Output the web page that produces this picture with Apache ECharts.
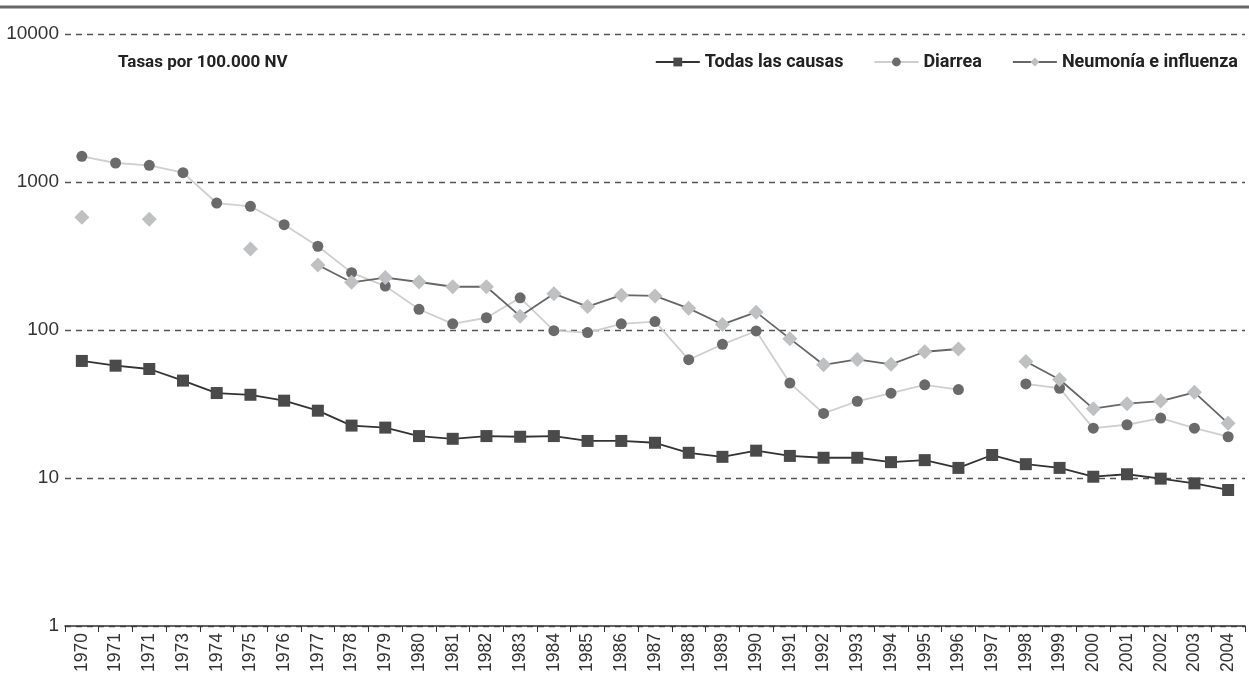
<!DOCTYPE html>
<html>
<head>
<meta charset="utf-8">
<script src="https://cdn.jsdelivr.net/npm/echarts@6/dist/echarts.min.js"></script>
<style>
html,body{margin:0;padding:0;background:#fff;}
#chart{width:1249px;height:685px;}
</style>
</head>
<body>
<div id="chart"></div>
<script>
const years = ['1970','1971','1971','1973','1974','1975','1976','1977','1978','1979','1980','1981','1982','1983','1984','1985','1986','1987','1988','1989','1990','1991','1992','1993','1994','1995','1996','1997','1998','1999','2000','2001','2002','2003','2004'];
const todas = [61.8,57.4,54.5,45.5,37.5,36.5,33.3,28.5,22.6,21.9,19.2,18.4,19.2,19.0,19.2,17.8,17.8,17.3,14.8,13.9,15.3,14.1,13.7,13.7,12.8,13.2,11.7,14.3,12.4,11.7,10.2,10.6,9.9,9.2,8.3];
const diarrea = [1492,1344,1297,1156,721,685,515,368,244,198,138,110,121,165,99,96,110,114,63,80,98.5,43.8,27.3,33,37.4,42.6,39.6,null,43.2,40.4,21.7,22.9,25.4,21.7,19.0];
const neumonia = [577,null,560,null,null,352,null,275,210,226,211,196,196,124,176,144,172,170,140,109,132,87.4,58.2,63.3,58.6,71.3,74.4,null,61.3,46.3,29.4,31.8,33.1,37.9,23.4];
const yTicks = [1,10,100,1000,10000];
const seriesNames = ['Todas las causas','Diarrea','Neumonía e influenza'];

const chart = echarts.init(document.getElementById('chart'));
chart.setOption({
  animation:false,
  backgroundColor:'#fff',
  graphic:[{type:'line',shape:{x1:0,y1:7,x2:1249,y2:7},style:{stroke:'#666',lineWidth:3}}],
  title:{text:'Tasas por 100.000 NV',left:113,top:49,textStyle:{fontFamily:'Roboto',fontWeight:'bold',fontSize:17,color:'#222'}},
  legend:{right:6,top:48,itemGap:30,itemWidth:44,itemHeight:11,
    textStyle:{fontFamily:'Roboto',fontWeight:'bold',fontSize:18,color:'#222'},
    data:seriesNames},
  grid:{left:65,right:4,top:34,bottom:59,containLabel:false},
  xAxis:{type:'category',data:years,boundaryGap:true,
    axisLine:{lineStyle:{color:'#333',width:1.5}},
    axisTick:{show:true,length:6,lineStyle:{color:'#333'}},
    axisLabel:{rotate:90,interval:0,fontFamily:'Liberation Sans',fontSize:17.5,color:'#333',margin:7}},
  yAxis:{type:'log',logBase:10,min:1,max:10000,
    axisLine:{show:false},axisTick:{show:false},
    axisLabel:{fontFamily:'Liberation Sans',fontSize:19,color:'#333',margin:6,
      formatter:v=>String(Math.round(v))},
    splitLine:{show:true,lineStyle:{color:'#555',type:[6,5],width:1.3}}},
  series:[
    {name:seriesNames[0],type:'line',data:todas,symbol:'rect',symbolSize:12,
      lineStyle:{color:'#333',width:1.8},itemStyle:{color:'#4a4a4a'},z:3},
    {name:seriesNames[1],type:'line',data:diarrea,symbol:'circle',symbolSize:11,
      lineStyle:{color:'#cfcfcf',width:1.8},itemStyle:{color:'#6a6a6c'},z:4},
    {name:seriesNames[2],type:'line',data:neumonia,symbol:'diamond',symbolSize:15,
      lineStyle:{color:'#666',width:1.8},itemStyle:{color:'#bfc0c2'},z:5}
  ]
});
</script>
</body>
</html>
